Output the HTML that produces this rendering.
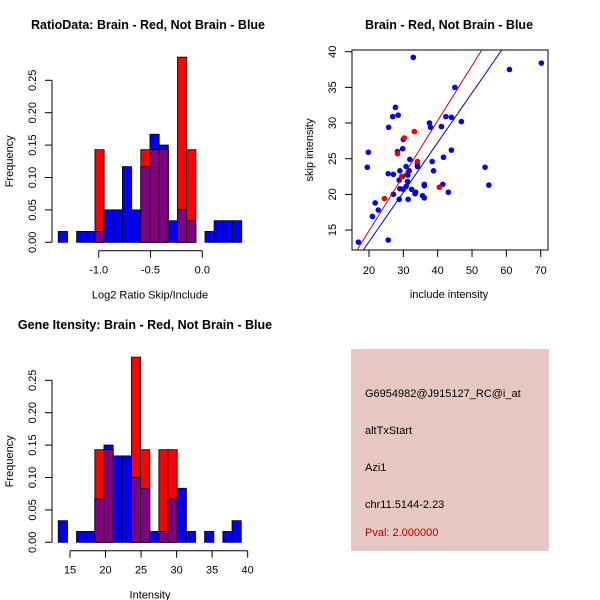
<!DOCTYPE html>
<html><head><meta charset="utf-8"><style>
body{margin:0;background:#fff}
svg{display:block;font-family:"Liberation Sans",sans-serif}
</style></head><body>
<svg id="c" width="600" height="600" xmlns="http://www.w3.org/2000/svg">
<rect width="600" height="600" fill="#fff"/>
<text x="148" y="29" font-size="12.5" font-weight="bold" text-anchor="middle">RatioData: Brain - Red, Not Brain - Blue</text>
<text x="449" y="29" font-size="12.5" font-weight="bold" text-anchor="middle">Brain - Red, Not Brain - Blue</text>
<text x="145" y="329" font-size="12.5" font-weight="bold" text-anchor="middle">Gene Itensity: Brain - Red, Not Brain - Blue</text>
<g id="g1"></g>
<g id="g2"></g>
<g id="g3"></g>
<g>
<rect x="351" y="349" width="198" height="202" fill="#e6c8c2"/>
<text x="365" y="397" font-size="11">G6954982@J915127_RC@i_at</text>
<text x="365" y="434" font-size="11">altTxStart</text>
<text x="365" y="471" font-size="11">Azi1</text>
<text x="365" y="508" font-size="11">chr11.5144-2.23</text>
<text x="365" y="536" font-size="11" fill="#b00000">Pval: 2.000000</text>
</g>
</svg>
<script>
// Ratio histogram data
const ratioStart = -1.39;
const ratioBinW = 0.0885;
const ratioBlue = [0.0167,0,0.0167,0.0167,0.0167,0.05,0.05,0.1167,0.05,0.1167,0.1667,0.15,0.0333,0.05,0.0333,0,0.0167,0.0333,0.0333,0.0333];
const ratioRed = [0,0,0,0,0.1429,0,0,0,0,0.1429,0.1429,0.1429,0,0.2857,0.1429,0,0,0,0,0];
const ratioTicks = [-1.0,-0.5,0.0];
const ratioTickLabels = ["-1.0","-0.5","0.0"];
// Intensity histogram data
const intStart = 13.35;
const intBinW = 1.287;
const intBlue = [0.0333,0,0.0167,0.0167,0.0667,0.15,0.1333,0.1333,0.1,0.0833,0.0167,0.0167,0.0667,0.0833,0.0167,0,0.0167,0,0.0167,0.0333];
const intRed = [0,0,0,0,0.1429,0.1429,0,0,0.2857,0.1429,0,0.1429,0.1429,0,0,0,0,0,0,0];
const intTicks = [15,20,25,30,35,40];
const freqTicks = [0,0.05,0.10,0.15,0.20,0.25];
const freqTickLabels = ["0.00","0.05","0.10","0.15","0.20","0.25"];
// Scatter data
const blueX = [16.9,32.9,60.9,70.2,45.0,27.7,26.9,28.5,25.7,37.6,37.9,42.4,44.0,46.9,41.1,30.0,28.3,29.8,19.8,44.0,19.5,41.7,38.4,31.9,25.6,27.1,29.0,30.8,31.7,34.1,34.1,38.8,53.8,54.9,28.8,29.8,31.3,31.2,29.0,30.0,30.8,32.4,33.4,33.6,36.1,36.1,41.5,43.1,35.6,36.1,27.1,28.8,31.4,21.8,22.7,21.0,25.6];
const blueY = [13.3,39.2,37.5,38.4,35.0,32.2,30.9,31.1,29.4,30.0,29.4,30.9,30.8,30.2,29.5,27.7,26.0,26.4,25.9,26.2,23.8,25.2,24.6,24.9,22.9,22.8,23.3,23.9,23.3,24.3,23.9,23.3,23.8,21.3,22.0,22.5,22.7,21.8,20.8,20.7,21.1,20.7,20.1,20.3,21.4,21.2,21.4,20.3,19.8,19.5,20.0,19.3,19.3,18.8,17.8,16.9,13.6];
const redX = [28.3,30.3,33.2,24.5,34.1,40.5,29.5];
const redY = [25.7,27.9,28.8,19.4,24.6,21.0,22.5];
const redLine = [16.4,12.1,52.8,40.2];
const blueLine = [18.2,12.1,58.6,40.2];
const sxTicks = [20,30,40,50,60,70];
const syTicks = [15,20,25,30,35,40];

const NS="http://www.w3.org/2000/svg";
function mk(parent,tag,attrs,text){const e=document.createElementNS(NS,tag);for(const k in attrs)e.setAttribute(k,attrs[k]);if(text!==undefined)e.textContent=text;parent.appendChild(e);return e;}

function hist(g,start,bw,blue,red,xfn,y0,xticks,xlabels,xtitle,axisY){
  const yfn=v=>y0-v*648;
  for(let i=0;i<blue.length;i++){
    const x1=xfn(start+i*bw),x2=xfn(start+(i+1)*bw);
    const b=blue[i],r=red[i],m=Math.min(b,r);
    if(b>0){const e=mk(g,'rect',{x:x1,y:yfn(b),width:x2-x1,height:y0-yfn(b),fill:'#0000ee',stroke:'#000022','stroke-width':0.9});
      
      }
    if(r>0){const e=mk(g,'rect',{x:x1,y:yfn(r),width:x2-x1,height:y0-yfn(r),fill:'#ff0000',stroke:'#220000','stroke-width':0.9});
      
      }
    if(m>0){const e=mk(g,'rect',{x:x1,y:yfn(m),width:x2-x1,height:y0-yfn(m),fill:'#800080',stroke:'#220022','stroke-width':0.9});
      
      }
  }
  mk(g,'line',{x1:52,x2:52,y1:yfn(0),y2:yfn(0.25),stroke:'#000'});
  freqTicks.forEach((t,i)=>{const y=yfn(t);mk(g,'line',{x1:45,x2:52,y1:y,y2:y,stroke:'#000'});
    const e=mk(g,'text',{x:0,y:0,'font-size':11,'text-anchor':'middle',transform:`translate(36,${y}) rotate(-90)`},freqTickLabels[i]);
    
    });
  const yt=mk(g,'text',{x:0,y:0,'font-size':11,'text-anchor':'middle',transform:`translate(13,${yfn(0.125)}) rotate(-90)`},'Frequency');
  
  
  mk(g,'line',{x1:xfn(xticks[0]),x2:xfn(xticks[xticks.length-1]),y1:axisY,y2:axisY,stroke:'#000'});
  xticks.forEach((t,i)=>{const x=xfn(t);mk(g,'line',{x1:x,x2:x,y1:axisY,y2:axisY+7,stroke:'#000'});
    const e=mk(g,'text',{x:x,y:axisY+23,'font-size':11,'text-anchor':'middle'},xlabels[i]);
    
    });
  const xt=mk(g,'text',{x:150,y:axisY+48,'font-size':11,'text-anchor':'middle'},xtitle);
  
  
}
hist(document.getElementById('g1'),ratioStart,ratioBinW,ratioBlue,ratioRed,v=>202.3+v*103.6,242.3,ratioTicks,ratioTickLabels,'Log2 Ratio Skip/Include',250.7);
hist(document.getElementById('g3'),intStart,intBinW,intBlue,intRed,v=>70+(v-15)*7.107,542.3,intTicks,intTicks.map(String),'Intensity',550.7);

const g2=document.getElementById('g2');
const sx=v=>369+(v-20)*3.434, sy=v=>51.7+(40-v)*7.133;
mk(g2,'defs',{}).innerHTML='<clipPath id="cp"><rect x="352" y="50" width="196" height="200"/></clipPath>';
mk(g2,'rect',{x:352,y:50,width:196,height:200,fill:'none',stroke:'#000'});
const pts=mk(g2,'g',{'clip-path':'url(#cp)'});
for(let i=0;i<blueX.length;i++){const e=mk(pts,'circle',{cx:sx(blueX[i]),cy:sy(blueY[i]),r:2.8,fill:'#0000dd'});
  
  }
for(let i=0;i<redX.length;i++){const e=mk(pts,'circle',{cx:sx(redX[i]),cy:sy(redY[i]),r:2.8,fill:'#ee0000'});
  
  }
const rl=mk(pts,'line',{x1:sx(redLine[0]),y1:sy(redLine[1]),x2:sx(redLine[2]),y2:sy(redLine[3]),stroke:'#cc0000','stroke-width':1});


const bl=mk(pts,'line',{x1:sx(blueLine[0]),y1:sy(blueLine[1]),x2:sx(blueLine[2]),y2:sy(blueLine[3]),stroke:'#0000aa','stroke-width':1});


sxTicks.forEach(t=>{const x=sx(t);mk(g2,'line',{x1:x,x2:x,y1:250,y2:257,stroke:'#000'});
  const e=mk(g2,'text',{x:x,y:274,'font-size':11,'text-anchor':'middle'},String(t));
  
  });
syTicks.forEach(t=>{const y=sy(t);mk(g2,'line',{x1:345,x2:352,y1:y,y2:y,stroke:'#000'});
  const e=mk(g2,'text',{x:0,y:0,'font-size':11,'text-anchor':'middle',transform:`translate(336,${y}) rotate(-90)`},String(t));
  
  });
const sxt=mk(g2,'text',{x:449,y:298,'font-size':11,'text-anchor':'middle'},'include intensity');


const syt=mk(g2,'text',{x:0,y:0,'font-size':11,'text-anchor':'middle',transform:'translate(313,150) rotate(-90)'},'skip intensity');


</script>
</body></html>
